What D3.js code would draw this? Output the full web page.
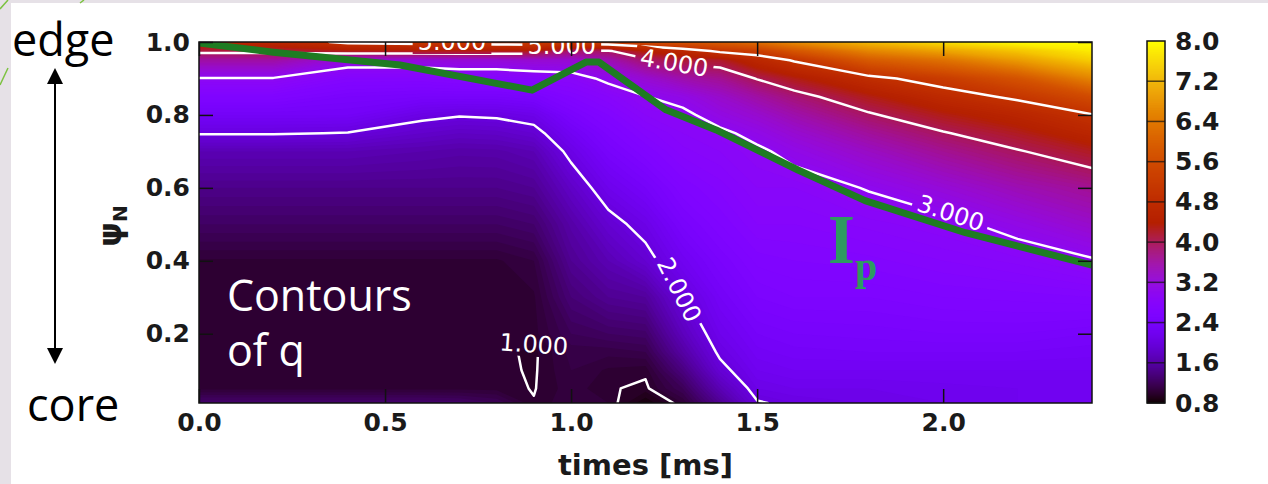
<!DOCTYPE html>
<html>
<head>
<meta charset="utf-8">
<title>Contours of q</title>
<script src="https://cdn.jsdelivr.net/npm/d3@7"></script>
<style>
  body { margin: 0; background: #fff; }
  svg { display: block; }
</style>
</head>
<body>
<script>
// grid of the q map: time columns (ms) and psi_N rows (core -> edge)
var times = [0, 0.2, 0.4, 0.6, 0.7, 0.8, 0.9, 1.0, 1.1, 1.2, 1.3, 1.4, 1.5, 1.6, 1.8, 2.0, 2.2, 2.4];
var psiRows = [0.01, 0.05, 0.1, 0.15, 0.2, 0.3, 0.4, 0.5, 0.6, 0.7, 0.75, 0.8, 0.85, 0.9, 0.95, 0.975, 1.0];

// q profile at each time, one value per psi row
var qProfiles = [
  [1.3, 1.03, 1.02, 1.02, 1.02, 1.02, 1.04, 1.25, 1.45, 1.7, 2.02, 2.3, 2.6, 2.98, 3.6, 4.1, 4.6],    // 0.0
  [1.3, 1.03, 1.02, 1.02, 1.02, 1.02, 1.04, 1.25, 1.45, 1.7, 2.02, 2.3, 2.6, 2.98, 3.6, 4.1, 4.7],    // 0.2
  [1.3, 1.03, 1.02, 1.02, 1.02, 1.02, 1.04, 1.25, 1.45, 1.7, 1.99, 2.3, 2.45, 2.7, 3.2, 4.3, 5.1],    // 0.4
  [1.3, 1.03, 1.02, 1.02, 1.02, 1.02, 1.04, 1.25, 1.45, 1.65, 1.85, 2.07, 2.4, 2.7, 3.2, 4.3, 5.2],   // 0.6
  [1.28, 1.03, 1.02, 1.02, 1.02, 1.02, 1.04, 1.25, 1.45, 1.62, 1.8, 2.02, 2.4, 2.75, 3.25, 4.3, 5.2], // 0.7
  [1.2, 1.03, 1.02, 1.02, 1.02, 1.02, 1.04, 1.25, 1.45, 1.63, 1.82, 2.04, 2.4, 2.75, 3.25, 4.3, 5.25],// 0.8
  [1.005, 0.995, 0.99, 0.985, 1.03, 1.04, 1.1, 1.3, 1.5, 1.7, 1.9, 2.12, 2.45, 2.8, 3.3, 4.3, 5.3],  // 0.9
  [1.1, 1.08, 1.1, 1.12, 1.2, 1.35, 1.5, 1.62, 1.82, 2.08, 2.25, 2.45, 2.65, 2.85, 3.3, 3.9, 5.3],    // 1.0
  [1.05, 1.01, 1.04, 1.12, 1.25, 1.5, 1.7, 1.9, 2.15, 2.4, 2.52, 2.65, 2.8, 3.08, 3.5, 3.95, 5.4],    // 1.1
  [0.85, 0.98, 1.02, 1.15, 1.28, 1.55, 1.9, 2.1, 2.35, 2.6, 2.72, 2.85, 2.99, 3.3, 3.9, 4.4, 5.6],    // 1.2
  [1.05, 1.2, 1.4, 1.6, 1.75, 1.97, 2.22, 2.42, 2.6, 2.78, 2.85, 2.92, 3.12, 3.55, 4.15, 4.7, 5.8],   // 1.3
  [1.5, 1.7, 1.92, 2.05, 2.15, 2.3, 2.45, 2.6, 2.72, 2.85, 2.93, 3.15, 3.35, 3.7, 4.2, 5.1, 6.0],     // 1.4
  [1.98, 2.1, 2.2, 2.28, 2.35, 2.5, 2.62, 2.75, 2.85, 2.94, 3.1, 3.32, 3.6, 4.02, 4.65, 5.3, 6.3],    // 1.5
  [2.05, 2.15, 2.25, 2.33, 2.4, 2.55, 2.65, 2.75, 2.85, 3.1, 3.3, 3.55, 3.85, 4.3, 5.05, 5.8, 6.7],   // 1.6
  [2.1, 2.15, 2.25, 2.35, 2.42, 2.55, 2.68, 2.82, 3.02, 3.4, 3.65, 3.95, 4.3, 4.85, 5.9, 6.6, 7.3],   // 1.8
  [2.15, 2.18, 2.25, 2.35, 2.45, 2.6, 2.75, 2.9, 3.25, 3.7, 3.97, 4.3, 4.75, 5.25, 6.3, 7.0, 7.7],    // 2.0
  [2.2, 2.2, 2.25, 2.35, 2.45, 2.62, 2.82, 3.12, 3.5, 3.97, 4.25, 4.6, 5.1, 5.75, 6.9, 7.4, 8.0],     // 2.2
  [2.2, 2.2, 2.25, 2.32, 2.4, 2.65, 2.97, 3.35, 3.7, 4.25, 4.62, 4.98, 5.6, 6.6, 7.5, 7.8, 8.0]       // 2.4
];

// plasma current (Ip) trace
var ipTimes = [0, 0.2, 0.54, 0.895, 1.04, 1.075, 1.255, 1.39, 1.61, 1.79, 2.06, 2.4];
var ipPsi = [0.997, 0.972, 0.937, 0.868, 0.945, 0.945, 0.814, 0.759, 0.649, 0.565, 0.477, 0.388];

var lineLevels = [1, 2, 3, 4, 5];
var contourLabels = [
  {text: "1.000", t: 0.90, psi: 0.17, angle: 4},
  {text: "2.000", t: 1.29, psi: 0.32, angle: 63},
  {text: "3.000", t: 2.02, psi: 0.53, angle: 18},
  {text: "4.000", t: 1.277, psi: 0.942, angle: 10},
  {text: "5.000", t: 0.975, psi: 0.99, angle: 0},
  {text: "5.000", t: 0.68, psi: 1.0, angle: 0}
];

var xTicks = [0, 0.5, 1.0, 1.5, 2.0];
var yTicks = [0.2, 0.4, 0.6, 0.8, 1.0];
var colorbarTicks = [0.8, 1.6, 2.4, 3.2, 4.0, 4.8, 5.6, 6.4, 7.2, 8.0];

var W = 1268, H = 484;
var plotL = 199, plotR = 1092, plotT = 42, plotB = 403;

var svg = d3.select("body").append("svg").attr("width", W).attr("height", H);
var defs = svg.append("defs");

// slide background
svg.append("rect").attr("width", W).attr("height", H).attr("fill", "#e6e1e7");
svg.append("rect").attr("x", 11).attr("y", 3).attr("width", W - 11).attr("height", H - 3).attr("fill", "#fff");
svg.append("path").attr("d", "M0,9L8,0M0,85L8,68M80,3L84,0")
  .attr("stroke", "#7dc242").attr("stroke-width", 1.5);

var x = d3.scaleLinear().domain([0, 2.4]).range([plotL, plotR]);
var y = d3.scaleLinear().domain([0.01, 1.0]).range([plotB, plotT]);

// gnuplot colour map
var norm = d3.scaleLinear().domain([0.8, 8.0]).range([0, 1]).clamp(true);
function gnuplot(q) {
  var s = norm(q);
  return d3.rgb(255 * Math.sqrt(s), 255 * s * s * s, 255 * Math.max(0, Math.sin(2 * Math.PI * s))) + "";
}

var nx = times.length, ny = psiRows.length;
var values = d3.merge(d3.transpose(qProfiles));
var tAt = d3.scaleLinear().domain(d3.range(nx)).range(times).clamp(true);
var psiAt = d3.scaleLinear().domain(d3.range(ny)).range(psiRows).clamp(true);
function toScreen(p) { return [x(tAt(p[0] - 0.5)), y(psiAt(p[1] - 0.5))]; }
var path = d3.geoPath(d3.geoTransform({
  point: function(gx, gy) { var s = toScreen([gx, gy]); this.stream.point(s[0], s[1]); }
}));

defs.append("clipPath").attr("id", "plotClip").append("rect")
  .attr("x", plotL).attr("y", plotT).attr("width", plotR - plotL).attr("height", plotB - plotT);

// filled contours
var field = svg.append("g").attr("clip-path", "url(#plotClip)");
field.append("rect").attr("x", plotL).attr("y", plotT).attr("width", plotR - plotL).attr("height", plotB - plotT)
  .attr("fill", gnuplot(0.8));
var fillLevels = d3.range(0.8, 8.0, 0.05);
field.selectAll("path.band")
  .data(d3.contours().size([nx, ny]).thresholds(fillLevels)(values))
  .join("path")
  .attr("class", "band")
  .attr("d", path)
  .attr("fill", function(d) { return gnuplot(d.value + 0.025); });

// contour lines, with gaps for the labels
var mask = defs.append("mask").attr("id", "labelGaps").attr("maskUnits", "userSpaceOnUse")
  .attr("x", 0).attr("y", 0).attr("width", W).attr("height", H);
mask.append("rect").attr("width", W).attr("height", H).attr("fill", "#fff");

// a segment that stays in the outer half-cell lies on the frame, not on the iso-line
function alongFrame(a, b) {
  return (a[0] <= 0.5 && b[0] <= 0.5) || (a[0] >= nx - 0.5 && b[0] >= nx - 0.5) ||
         (a[1] <= 0.5 && b[1] <= 0.5) || (a[1] >= ny - 0.5 && b[1] >= ny - 0.5);
}
var pieces = [];
d3.contours().size([nx, ny]).thresholds(lineLevels)(values).forEach(function(c) {
  c.coordinates.forEach(function(poly) {
    poly.forEach(function(ring) {
      var cur = [ring[0]];
      for (var i = 1; i < ring.length; i++) {
        if (alongFrame(ring[i - 1], ring[i])) {
          if (cur.length > 1) pieces.push(cur);
          cur = [ring[i]];
        } else {
          cur.push(ring[i]);
        }
      }
      if (cur.length > 1) pieces.push(cur);
    });
  });
});
var lineGen = d3.line();
svg.append("g").attr("clip-path", "url(#plotClip)")
  .append("g").attr("mask", "url(#labelGaps)")
  .selectAll("path")
  .data(pieces)
  .join("path")
  .attr("d", function(d) { return lineGen(d.map(toScreen)); })
  .attr("fill", "none")
  .attr("stroke", "#fff")
  .attr("stroke-width", 2.5)
  .attr("stroke-linejoin", "round")
  .attr("stroke-linecap", "round");

var labelLayer = svg.append("g").attr("clip-path", "url(#plotClip)");
contourLabels.forEach(function(d) {
  var tr = "translate(" + x(d.t) + "," + y(d.psi) + ") rotate(" + d.angle + ")";
  var txt = labelLayer.append("text")
    .attr("transform", tr)
    .attr("text-anchor", "middle")
    .attr("dominant-baseline", "central")
    .attr("font-family", "DejaVu Sans")
    .attr("font-size", 24)
    .attr("fill", "#fff")
    .text(d.text);
  var w = txt.node().getComputedTextLength();
  mask.append("rect").attr("transform", tr)
    .attr("x", -w / 2 - 5).attr("y", -12).attr("width", w + 10).attr("height", 24)
    .attr("fill", "#000");
});

// Ip trace
svg.append("g").attr("clip-path", "url(#plotClip)")
  .append("path")
  .datum(d3.zip(ipTimes, ipPsi))
  .attr("d", d3.line().x(function(d) { return x(d[0]); }).y(function(d) { return y(d[1]); }))
  .attr("fill", "none")
  .attr("stroke", "#1e7c22")
  .attr("stroke-width", 7)
  .attr("stroke-linejoin", "round");

var ipText = svg.append("text")
  .attr("x", x(1.69)).attr("y", y(0.395))
  .attr("font-family", "Liberation Serif").attr("font-weight", "bold")
  .attr("font-size", 70).attr("fill", "#2e9a60")
  .text("I");
ipText.append("tspan").attr("font-size", 40).attr("dy", 17).text("p");

// text inside the map
var inside = svg.append("g").attr("font-family", "Open Sans").attr("font-size", 43).attr("fill", "#fff");
inside.append("text").attr("x", x(0.075)).attr("y", y(0.262)).text("Contours");
inside.append("text").attr("x", x(0.075)).attr("y", y(0.111)).text("of q");

// axes
function styleAxis(g) {
  g.select(".domain").remove();
  g.selectAll(".tick line").attr("stroke", "#111").attr("stroke-width", 1.5);
  g.selectAll("text")
    .attr("font-family", "DejaVu Sans").attr("font-weight", "bold")
    .attr("font-size", 25).attr("fill", "#1a1a1a");
}
svg.append("g").attr("transform", "translate(0," + plotB + ")")
  .call(d3.axisBottom(x).tickValues(xTicks).tickFormat(d3.format(".1f")).tickSizeInner(-14).tickSizeOuter(0).tickPadding(10))
  .call(styleAxis);
svg.append("g").attr("transform", "translate(0," + plotT + ")")
  .call(d3.axisTop(x).tickValues(xTicks).tickFormat("").tickSizeInner(-14).tickSizeOuter(0))
  .call(styleAxis);
svg.append("g").attr("transform", "translate(" + plotL + ",0)")
  .call(d3.axisLeft(y).tickValues(yTicks).tickFormat(d3.format(".1f")).tickSizeInner(-14).tickSizeOuter(0).tickPadding(9))
  .call(styleAxis);
svg.append("g").attr("transform", "translate(" + plotR + ",0)")
  .call(d3.axisRight(y).tickValues(yTicks).tickFormat("").tickSizeInner(-14).tickSizeOuter(0))
  .call(styleAxis);
svg.append("rect").attr("x", plotL).attr("y", plotT).attr("width", plotR - plotL).attr("height", plotB - plotT)
  .attr("fill", "none").attr("stroke", "#111").attr("stroke-width", 1.5);

svg.append("text")
  .attr("x", (plotL + plotR) / 2).attr("y", 475)
  .attr("text-anchor", "middle")
  .attr("font-family", "DejaVu Sans").attr("font-weight", "bold").attr("font-size", 29).attr("fill", "#1a1a1a")
  .text("times [ms]");
var yLab = svg.append("text")
  .attr("transform", "translate(121,226) rotate(-90)")
  .attr("text-anchor", "middle")
  .attr("font-family", "DejaVu Sans").attr("font-weight", "bold").attr("font-size", 31).attr("fill", "#1a1a1a")
  .text("ψ");
yLab.append("tspan").attr("font-size", 20).attr("dy", 6).text("N");

// colour bar
var cbLeft = 1147, cbWidth = 18;
var cbY = d3.scaleLinear().domain([0.8, 8.0]).range([plotB, 41]);
var cb = svg.append("g");
cb.selectAll("rect.step")
  .data(d3.range(0.8, 8.0, 0.02))
  .join("rect")
  .attr("class", "step")
  .attr("x", cbLeft).attr("width", cbWidth)
  .attr("y", function(d) { return cbY(d + 0.02); })
  .attr("height", function(d) { return cbY(d) - cbY(d + 0.02) + 0.6; })
  .attr("fill", function(d) { return gnuplot(d + 0.01); });
cb.selectAll("line.tick")
  .data(colorbarTicks.slice(1, -1))
  .join("line")
  .attr("class", "tick")
  .attr("x1", cbLeft).attr("x2", cbLeft + cbWidth)
  .attr("y1", cbY).attr("y2", cbY)
  .attr("stroke", "#111").attr("stroke-opacity", 0.7).attr("stroke-width", 1.5);
cb.append("rect").attr("x", cbLeft).attr("y", cbY(8.0)).attr("width", cbWidth).attr("height", cbY(0.8) - cbY(8.0))
  .attr("fill", "none").attr("stroke", "#111").attr("stroke-width", 1.5);
cb.selectAll("text")
  .data(colorbarTicks)
  .join("text")
  .attr("x", 1175).attr("y", cbY)
  .attr("dominant-baseline", "central")
  .attr("font-family", "DejaVu Sans").attr("font-weight", "bold").attr("font-size", 25).attr("fill", "#1a1a1a")
  .text(d3.format(".1f"));

// edge / core annotation
var note = svg.append("g").attr("font-family", "Open Sans").attr("font-size", 45).attr("fill", "#000");
note.append("text").attr("x", 12).attr("y", 56).text("edge");
note.append("text").attr("x", 27).attr("y", 421).text("core");
svg.append("line").attr("x1", 55).attr("x2", 55).attr("y1", 80).attr("y2", 352)
  .attr("stroke", "#000").attr("stroke-width", 2);
svg.append("path").attr("d", "M55,68L47,84L63,84Z M55,364L47,348L63,348Z").attr("fill", "#000");
</script>
</body>
</html>
